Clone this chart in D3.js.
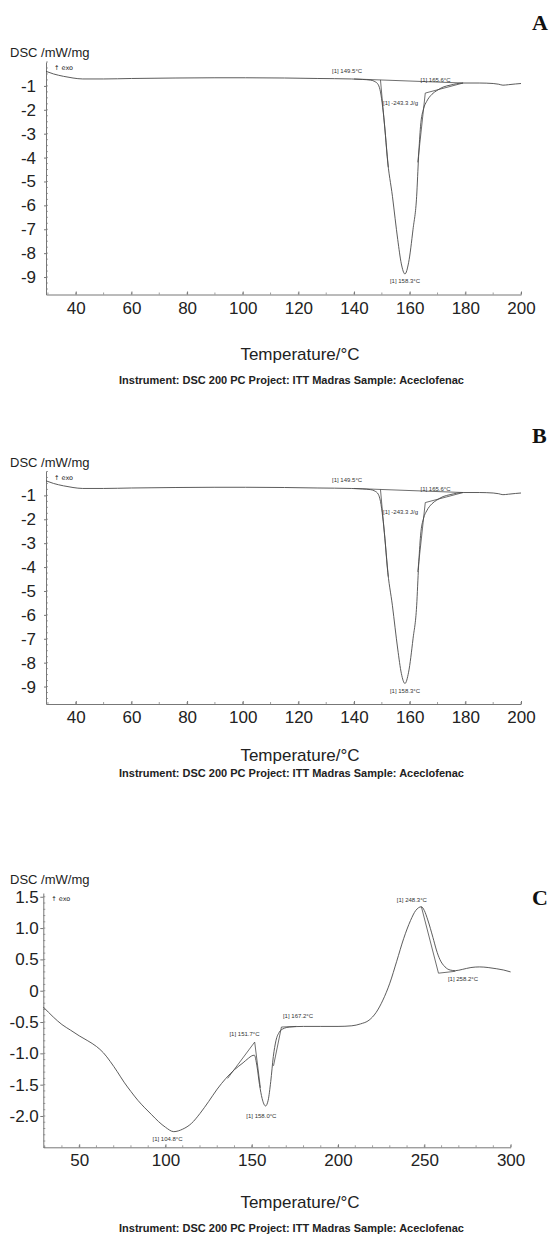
<!DOCTYPE html>
<html>
<head>
<meta charset="utf-8">
<script src="https://cdn.jsdelivr.net/npm/d3@7"></script>
<style>
  html, body { margin: 0; padding: 0; background: #fff; }
  svg { display: block; }
  text { font-family: "Liberation Sans", Arial, sans-serif; fill: #222; }
</style>
</head>
<body>
<script>
// ---- DSC trace of aceclofenac (panels A and B show the same run) ----
const tempAB = [29.3, 32, 35.6, 39, 42.5, 50, 60, 76, 90, 101, 115, 127, 139, 143, 146,
  147.5, 148.7, 149.5, 150.3, 151.1, 151.9, 153.8, 155.7, 157, 158.3, 159.6, 161.2,
  162.5, 163.2, 163.9, 165, 166.1, 168, 169.7, 172, 174.5, 179.2, 185, 190, 192,
  193.5, 195.5, 198, 200];
const dscAB = [-0.39, -0.50, -0.60, -0.67, -0.71, -0.71, -0.69, -0.67, -0.66, -0.66, -0.67, -0.69, -0.71, -0.73, -0.76,
  -0.82, -0.95, -1.25, -1.9, -2.8, -3.95, -5.62, -7.43, -8.45, -8.87, -8.4, -7.0,
  -5.62, -3.95, -2.69, -1.95, -1.65, -1.35, -1.20, -1.05, -0.97, -0.88, -0.88, -0.90, -0.93,
  -0.97, -0.95, -0.92, -0.90];

// evaluation lines: integration baseline, onset tangent, endset tangent
const baseLineAB = [[140, -0.71], [179.2, -0.88]];
const onsetTangentAB = [[149.5, -0.75], [152.3, -4.4]];
const endsetTangentAB = [[162.9, -4.2], [165.6, -1.3], [179.2, -0.88]];

const xTicksAB = [40, 60, 80, 100, 120, 140, 160, 180, 200];
const yTicksAB = [-1, -2, -3, -4, -5, -6, -7, -8, -9];

// annotation texts: [label, temperature, value]
const notesAB = [
  ["[1] 149.5\u00B0C", 137.5, -0.44],
  ["[1] 165.6\u00B0C", 169.3, -0.82],
  ["[1] -243.3 J/g", 156.7, -1.79],
  ["[1] 158.3\u00B0C", 158.3, -9.25]
];

// ---- DSC trace, panel C ----
const tempC = [29.2, 35, 40, 45, 50, 55, 60, 64, 68, 72, 76, 80, 84, 88, 92, 96, 100, 104.8, 110, 115,
  120, 125, 130, 135, 140, 145, 148, 150, 151.5, 153, 154.5, 156, 158.0, 159.5, 161,
  162.5, 164, 166, 168, 172, 180, 190, 200, 208, 213, 218, 222, 226, 230, 234, 238,
  242, 245, 248.3, 250, 252, 255, 257, 259, 262, 265, 268, 272, 277, 282, 287, 292, 296, 300];
const dscC = [-0.26, -0.42, -0.54, -0.63, -0.72, -0.80, -0.89, -0.99, -1.13, -1.29, -1.46, -1.61, -1.75, -1.87, -1.98, -2.09, -2.18, -2.25, -2.21, -2.12,
  -1.96, -1.77, -1.57, -1.40, -1.26, -1.15, -1.08, -1.04, -1.03, -1.2, -1.5, -1.72, -1.84, -1.75, -1.45,
  -1.05, -0.80, -0.66, -0.61, -0.58, -0.57, -0.57, -0.57, -0.56, -0.53, -0.47, -0.35, -0.15, 0.12, 0.47, 0.83,
  1.12, 1.28, 1.34, 1.28, 1.13, 0.85, 0.65, 0.50, 0.38, 0.33, 0.32, 0.34, 0.37, 0.38, 0.37, 0.35, 0.33, 0.30];

const constructC = [
  [[136, -1.40], [151.7, -0.82], [155.0, -1.55]],
  [[162.6, -1.2], [167.2, -0.58], [176, -0.57]],
  [[248.3, 1.34], [258.2, 0.28], [268, 0.31]]
];

const xTicksC = [50, 100, 150, 200, 250, 300];
const yTicksC = [1.5, 1.0, 0.5, 0, -0.5, -1.0, -1.5, -2.0];
const yTickLabelsC = ["1.5", "1.0", "0.5", "0", "-0.5", "-1.0", "-1.5", "-2.0"];

const notesC = [
  ["[1] 248.3\u00B0C", 242.8, 1.42],
  ["[1] 258.2\u00B0C", 272.4, 0.15],
  ["[1] 151.7\u00B0C", 145.8, -0.72],
  ["[1] 167.2\u00B0C", 176.8, -0.44],
  ["[1] 158.0\u00B0C", 155.6, -2.03],
  ["[1] 104.8\u00B0C", 101.2, -2.40]
];

const yLabel = "DSC /mW/mg";
const xLabel = "Temperature/\u00B0C";
const footer = "Instrument: DSC 200 PC Project: ITT Madras Sample: Aceclofenac";

// ---- drawing ----
const svg = d3.select("body").append("svg")
  .attr("width", 550).attr("height", 1236);

const INK = "#4a4a4a";
const AXIS = "#777";

function drawPanel(p) {
  const g = svg.append("g");
  const x = d3.scaleLinear().domain(p.xDomain).range(p.xRange);
  const y = d3.scaleLinear().domain(p.yDomain).range(p.yRange);

  // panel letter
  g.append("text").attr("x", 532).attr("y", p.letterY)
    .style("font-family", "'Liberation Serif', 'Times New Roman', serif")
    .style("font-weight", "bold").style("font-size", "22px").style("fill", "#111")
    .text(p.letter);

  // y unit label
  g.append("text").attr("x", 10).attr("y", p.unitY)
    .style("font-size", "13px").text(yLabel);

  // minor ticks
  const minorX = d3.range(Math.ceil(p.xDomain[0] / p.xMinor) * p.xMinor, p.xDomain[1] + 1e-6, p.xMinor);
  g.append("g").selectAll("line").data(minorX).join("line")
    .attr("x1", d => x(d)).attr("x2", d => x(d))
    .attr("y1", p.yRange[0]).attr("y2", p.yRange[0] - 2)
    .attr("stroke", AXIS).attr("stroke-width", 0.7);
  const minorY = d3.range(Math.ceil(p.yDomain[0] / p.yMinor) * p.yMinor, p.yDomain[1] + 1e-6, p.yMinor);
  g.append("g").selectAll("line").data(minorY).join("line")
    .attr("x1", p.xRange[0]).attr("x2", p.xRange[0] + 2)
    .attr("y1", d => y(d)).attr("y2", d => y(d))
    .attr("stroke", AXIS).attr("stroke-width", 0.7);

  // axes
  const xAxis = d3.axisBottom(x).tickValues(p.xTicks).tickSizeInner(-3).tickSizeOuter(0)
    .tickPadding(7).tickFormat(d3.format("d"));
  const gx = g.append("g").attr("transform", `translate(0,${p.yRange[0]})`).call(xAxis);
  const yAxis = d3.axisLeft(y).tickValues(p.yTicks).tickSizeInner(p.yTickLen).tickSizeOuter(0)
    .tickPadding(p.yPad).tickFormat((d, i) => p.yTickLabels[i]);
  const gy = g.append("g").attr("transform", `translate(${p.xRange[0]},0)`).call(yAxis);
  [gx, gy].forEach(a => {
    a.select(".domain").attr("stroke", AXIS).attr("stroke-width", 1);
    a.selectAll(".tick line").attr("stroke", AXIS);
    a.selectAll(".tick text").style("font-size", "17px")
      .style("font-family", "'Liberation Sans', Arial, sans-serif").attr("fill", "#222");
  });

  // exo marker
  g.append("text").attr("x", p.xRange[0] + 8).attr("y", p.yRange[1] + 8)
    .style("font-size", "6.5px").style("font-family", "'DejaVu Sans', sans-serif")
    .text("\u2191 exo");

  const line = d3.line().x(d => x(d[0])).y(d => y(d[1]));

  // evaluation construction lines
  p.construct.forEach(seg => {
    g.append("path").datum(seg).attr("d", line)
      .attr("fill", "none").attr("stroke", INK).attr("stroke-width", 0.8);
  });

  // measured curve
  const pts = p.temps.map((t, i) => [t, p.vals[i]]);
  g.append("path").datum(pts)
    .attr("d", d3.line().x(d => x(d[0])).y(d => y(d[1])).curve(d3.curveMonotoneX))
    .attr("fill", "none").attr("stroke", INK).attr("stroke-width", 0.9);

  // annotations
  g.append("g").selectAll("text").data(p.notes).join("text")
    .attr("x", d => x(d[1])).attr("y", d => y(d[2]))
    .attr("text-anchor", "middle")
    .style("font-size", "6px").style("fill", "#333")
    .text(d => d[0]);

  // axis title and footer
  g.append("text").attr("x", 300).attr("y", p.titleY).attr("text-anchor", "middle")
    .style("font-size", "17px").text(xLabel);
  g.append("text").attr("x", 291.5).attr("y", p.footY).attr("text-anchor", "middle")
    .style("font-size", "11px").style("font-weight", "bold").text(footer);
}

const abLabels = yTicksAB.map(String);
const abConstruct = [baseLineAB, onsetTangentAB, endsetTangentAB];

drawPanel({
  letter: "A", letterY: 30, unitY: 57,
  xDomain: [29.3, 200], xRange: [46, 521],
  yDomain: [-9.73, 0], yRange: [294.5, 62],
  xTicks: xTicksAB, yTicks: yTicksAB, yTickLabels: abLabels,
  xMinor: 10, yMinor: 0.25, yTickLen: 2, yPad: 8,
  temps: tempAB, vals: dscAB, construct: abConstruct, notes: notesAB,
  titleY: 360, footY: 384
});

drawPanel({
  letter: "B", letterY: 443, unitY: 467,
  xDomain: [29.3, 200], xRange: [46, 521],
  yDomain: [-9.73, 0], yRange: [704, 471.5],
  xTicks: xTicksAB, yTicks: yTicksAB, yTickLabels: abLabels,
  xMinor: 10, yMinor: 0.25, yTickLen: 2, yPad: 8,
  temps: tempAB, vals: dscAB, construct: abConstruct, notes: notesAB,
  titleY: 761, footY: 777
});

drawPanel({
  letter: "C", letterY: 905, unitY: 884,
  xDomain: [29.2, 300], xRange: [43.3, 510.6],
  yDomain: [-2.5, 1.56], yRange: [1147.3, 893],
  xTicks: xTicksC, yTicks: yTicksC, yTickLabels: yTickLabelsC,
  xMinor: 10, yMinor: 0.1, yTickLen: 3, yPad: 1.5,
  temps: tempC, vals: dscC, construct: constructC, notes: notesC,
  titleY: 1208, footY: 1232
});
</script>
</body>
</html>
